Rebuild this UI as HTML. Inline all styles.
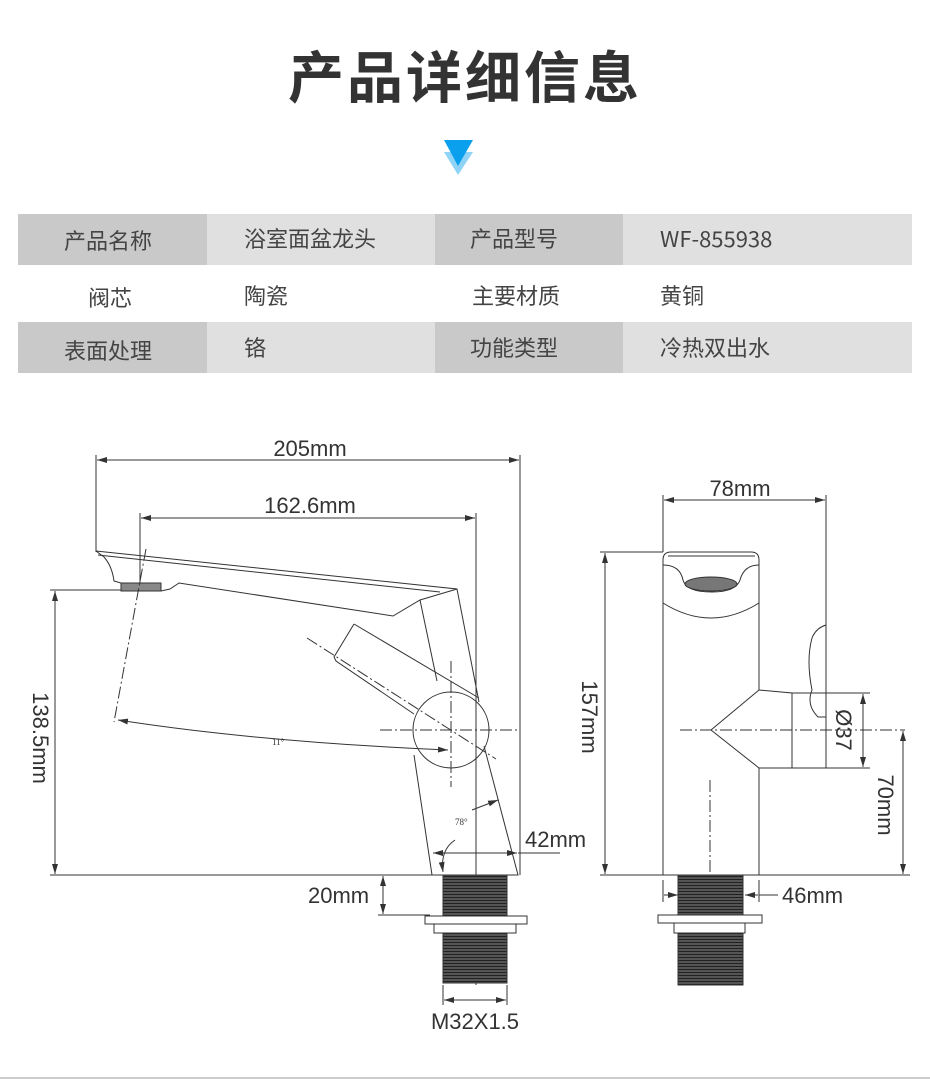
<!DOCTYPE html>
<html><head><meta charset="utf-8"><style>
body{margin:0;width:930px;height:1082px;background:#fff;position:relative;overflow:hidden;font-family:"Liberation Sans","Noto Sans CJK SC",sans-serif;}
.t{position:absolute;left:0;width:930px;top:34px;text-align:center;font-size:56px;font-weight:bold;color:#333;font-family:"Noto Sans CJK SC",sans-serif;letter-spacing:3px;}
.c{position:absolute;font-size:22px;color:#444;font-family:"Noto Sans CJK SC",sans-serif;line-height:50px;}
.bg{position:absolute;}
</style></head><body>
<div class="t">产品详细信息</div>
<svg style="position:absolute;left:0;top:0" width="930" height="200">
<polygon points="444,152 473,152 458,175" fill="#8fd3f7"/>
<polygon points="444,140 473,140 458,166" fill="#0aa0ee"/>
</svg>
<div class="bg" style="left:18px;top:214px;width:189px;height:51px;background:#c9c9c9"></div>
<div class="bg" style="left:207px;top:214px;width:228px;height:51px;background:#e0e0e0"></div>
<div class="bg" style="left:435px;top:214px;width:188px;height:51px;background:#c9c9c9"></div>
<div class="bg" style="left:623px;top:214px;width:289px;height:51px;background:#e0e0e0"></div>
<div class="bg" style="left:18px;top:322px;width:189px;height:51px;background:#c9c9c9"></div>
<div class="bg" style="left:207px;top:322px;width:228px;height:51px;background:#e0e0e0"></div>
<div class="bg" style="left:435px;top:322px;width:188px;height:51px;background:#c9c9c9"></div>
<div class="bg" style="left:623px;top:322px;width:289px;height:51px;background:#e0e0e0"></div>
<div class="c" style="left:64px;top:215px">产品名称</div>
<div class="c" style="left:244px;top:213px">浴室面盆龙头</div>
<div class="c" style="left:470px;top:213px">产品型号</div>
<div class="c" style="left:660px;top:213px">WF-855938</div>
<div class="c" style="left:88px;top:272px">阀芯</div>
<div class="c" style="left:244px;top:270px">陶瓷</div>
<div class="c" style="left:472px;top:270px">主要材质</div>
<div class="c" style="left:660px;top:270px">黄铜</div>
<div class="c" style="left:64px;top:325px">表面处理</div>
<div class="c" style="left:244px;top:322px">铬</div>
<div class="c" style="left:470px;top:322px">功能类型</div>
<div class="c" style="left:660px;top:322px">冷热双出水</div>
<div style="position:absolute;left:0;top:1077px;width:930px;height:2px;background:#ccc"></div>
<svg style="position:absolute;left:0;top:0" width="930" height="1082" font-family="Liberation Sans, sans-serif">
<defs>
<marker id="a" markerWidth="10" markerHeight="6" refX="10" refY="3" orient="auto-start-reverse" markerUnits="userSpaceOnUse"><path d="M0,0 L10,3 L0,6z" fill="#333"/></marker>
<pattern id="th" width="4" height="3" patternUnits="userSpaceOnUse"><rect width="4" height="3" fill="#555"/><rect width="4" height="1" fill="#222"/></pattern>
</defs>
<g stroke="#333" stroke-width="1" fill="none">
<line x1="96" y1="455" x2="96" y2="552"/><line x1="520" y1="455" x2="520" y2="875"/>
<line x1="97" y1="460" x2="519" y2="460" marker-start="url(#a)" marker-end="url(#a)"/>
<line x1="140" y1="513" x2="140" y2="590"/><line x1="476" y1="513" x2="476" y2="875"/>
<line x1="141" y1="518" x2="475" y2="518" marker-start="url(#a)" marker-end="url(#a)"/>
<line x1="50" y1="590" x2="160" y2="590"/><line x1="50" y1="875" x2="432" y2="875"/>
<line x1="55" y1="591" x2="55" y2="874" marker-start="url(#a)" marker-end="url(#a)"/>
<line x1="383" y1="876" x2="383" y2="914" marker-start="url(#a)" marker-end="url(#a)"/>
<line x1="378" y1="915" x2="430" y2="915"/>
<line x1="433" y1="853" x2="517" y2="853" marker-start="url(#a)" marker-end="url(#a)"/>
<line x1="518" y1="853" x2="560" y2="853"/>
<line x1="443" y1="985" x2="443" y2="1005"/><line x1="507" y1="985" x2="507" y2="1005"/>
<line x1="444" y1="1000" x2="506" y2="1000" marker-start="url(#a)" marker-end="url(#a)"/>
<path d="M96,551 L457,589 L479,702"/>
<path d="M98,555 L440,592"/>
<path d="M96,551 L104,557 Q112,566 114,581 L121,583 L161,591 L170,589 L179,583 L393,616 L420,600 L457,589"/>
<path d="M420,600 L437,681"/>
<rect x="121" y="583" width="40" height="8" fill="#888"/>
<path d="M414,755 L432,875 L518,875 L484,746"/>
<path d="M354,624 L334,657 L336,661 L414,714"/>
<path d="M354,624 L479,698"/>
<circle cx="451" cy="730" r="38"/>
<g stroke-dasharray="12,3,2,3">
<line x1="380" y1="730" x2="518" y2="730"/>
<line x1="451" y1="661" x2="451" y2="787"/>
<line x1="307" y1="638" x2="496" y2="759"/>
<line x1="146" y1="549" x2="114" y2="722"/>
<line x1="476" y1="880" x2="476" y2="985"/>
</g>
<path d="M118,720 Q260,742 448,750" marker-start="url(#a)" marker-end="url(#a)"/>
<path d="M472,810 L498,800" marker-end="url(#a)"/>
<path d="M455,840 Q440,850 443,872" marker-end="url(#a)"/>
<rect x="443" y="875" width="64" height="41" fill="url(#th)"/>
<rect x="425" y="916" width="102" height="8" fill="#fff"/>
<rect x="434" y="924" width="82" height="9" fill="#fff"/>
<rect x="443" y="933" width="64" height="50" fill="url(#th)"/>
<line x1="663" y1="495" x2="663" y2="552"/><line x1="826" y1="495" x2="826" y2="625"/>
<line x1="664" y1="500" x2="825" y2="500" marker-start="url(#a)" marker-end="url(#a)"/>
<line x1="600" y1="552" x2="663" y2="552"/><line x1="600" y1="875" x2="910" y2="875"/>
<line x1="605" y1="553" x2="605" y2="874" marker-start="url(#a)" marker-end="url(#a)"/>
<line x1="826" y1="693" x2="870" y2="693"/><line x1="826" y1="768" x2="870" y2="768"/>
<line x1="863" y1="694" x2="863" y2="767" marker-start="url(#a)" marker-end="url(#a)"/>
<line x1="903" y1="731" x2="903" y2="874" marker-start="url(#a)" marker-end="url(#a)"/>
<line x1="663" y1="880" x2="663" y2="902"/><line x1="759" y1="880" x2="759" y2="902"/>
<line x1="664" y1="895" x2="678" y2="895" marker-end="url(#a)"/>
<line x1="758" y1="895" x2="745" y2="895" marker-end="url(#a)"/>
<line x1="759" y1="895" x2="778" y2="895"/>
<path d="M663,560 Q663,552 671,552 L751,552 Q759,552 759,560 L759,690 L792,693 L792,768 L759,768 L759,875 L663,875 Z"/>
<line x1="668" y1="556" x2="755" y2="556"/>
<path d="M663,565 Q680,565 683,580 Q686,592 712,592 Q736,592 740,580 Q744,565 759,565"/>
<ellipse cx="711" cy="584" rx="26" ry="7" fill="#777"/>
<path d="M663,603 Q711,633 759,603"/>
<path d="M759,690 L711,730 L759,768"/>
<rect x="792" y="693" width="34" height="75"/>
<path d="M826,625 L826,717 L818,717 Q806,705 812,690 Q806,660 812,638 Q816,628 826,625"/>
<line x1="680" y1="730" x2="905" y2="730" stroke-dasharray="12,3,2,3"/>
<line x1="710" y1="780" x2="710" y2="985" stroke-dasharray="12,3,2,3"/>
<rect x="678" y="875" width="65" height="40" fill="url(#th)"/>
<rect x="658" y="915" width="104" height="8" fill="#fff"/>
<rect x="674" y="923" width="71" height="10" fill="#fff"/>
<rect x="678" y="933" width="65" height="52" fill="url(#th)"/>
</g>
<g fill="#333" font-size="22">
<text x="310" y="456" text-anchor="middle">205mm</text>
<text x="310" y="513" text-anchor="middle">162.6mm</text>
<text x="525" y="847">42mm</text>
<text x="308" y="903">20mm</text>
<text x="475" y="1029" text-anchor="middle">M32X1.5</text>
<text x="740" y="496" text-anchor="middle">78mm</text>
<text x="782" y="903">46mm</text>
<text transform="translate(33,738) rotate(90)" text-anchor="middle">138.5mm</text>
<text transform="translate(582,717) rotate(90)" text-anchor="middle">157mm</text>
<text transform="translate(836,730) rotate(90)" text-anchor="middle">Ø37</text>
<text transform="translate(878,805) rotate(90)" text-anchor="middle">70mm</text>
<text x="272" y="745" font-size="9" font-family="Liberation Serif, serif">11°</text>
<text x="455" y="825" font-size="9" font-family="Liberation Serif, serif">78°</text>
</g>
</svg>
</body></html>
